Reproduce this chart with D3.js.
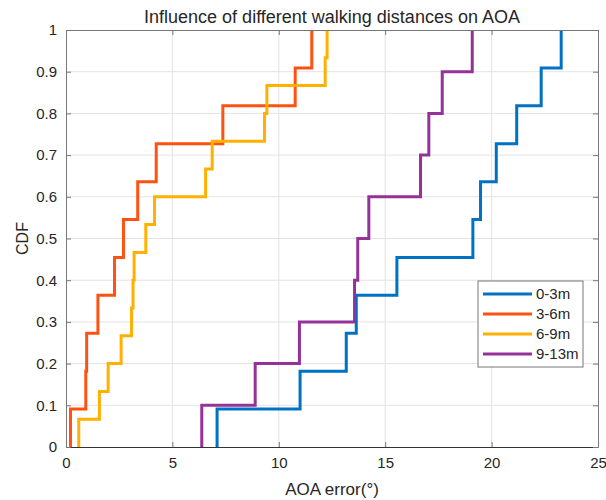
<!DOCTYPE html>
<html>
<head>
<meta charset="utf-8">
<script src="https://cdn.jsdelivr.net/npm/d3@7"></script>
<style>
  body { margin: 0; background: #fff; }
  text { font-family: "Liberation Sans", Arial, sans-serif; fill: #262626; }
</style>
</head>
<body>
<div id="chart"></div>
<script>
// sorted AOA errors (deg) per walking distance
const series0 = [7.1, 11.0, 13.17, 13.64, 15.55, 19.12, 19.48, 20.22, 21.18, 22.33, 23.27];
const series1 = [0.21, 0.93, 0.97, 1.5, 2.28, 2.7, 3.37, 4.24, 7.37, 10.77, 11.55];
const series2 = [0.6, 1.57, 1.98, 2.59, 3.08, 3.15, 3.2, 3.75, 4.16, 6.56, 6.87, 9.33, 9.44, 12.18, 12.27];
const series3 = [6.38, 8.89, 10.97, 13.56, 13.71, 14.23, 16.66, 17.05, 17.68, 19.09];
const names = ["0-3m", "3-6m", "6-9m", "9-13m"];
const colors = ["#0072C4", "#FF5212", "#FFB000", "#95329A"];
const xTicks = [0, 5, 10, 15, 20, 25];
const yTicks = [0, 0.1, 0.2, 0.3, 0.4, 0.5, 0.6, 0.7, 0.8, 0.9, 1];

const margin = { LEFT: 66, RIGHT: 8, TOP: 30, BOTTOM: 53 };
const W = 606, H = 500;
const width = W - margin.LEFT - margin.RIGHT;
const height = H - margin.TOP - margin.BOTTOM;

const svg = d3.select("#chart").append("svg")
    .attr("width", W)
    .attr("height", H);

const g = svg.append("g")
    .attr("transform", `translate(${margin.LEFT}, ${margin.TOP})`);

const x = d3.scaleLinear().domain([0, 25]).range([0, width]);
const y = d3.scaleLinear().domain([0, 1]).range([height, 0]);

// grid
g.append("g").selectAll("line").data(xTicks.slice(1, -1)).enter().append("line")
    .attr("x1", d => x(d)).attr("x2", d => x(d))
    .attr("y1", 0).attr("y2", height)
    .attr("stroke", "#e3e3e3").attr("stroke-width", 1);
g.append("g").selectAll("line").data(yTicks.slice(1, -1)).enter().append("line")
    .attr("x1", 0).attr("x2", width)
    .attr("y1", d => y(d)).attr("y2", d => y(d))
    .attr("stroke", "#e3e3e3").attr("stroke-width", 1);

// cdf step lines
const line = d3.line()
    .x(d => x(d.x))
    .y(d => y(d.y))
    .curve(d3.curveStepAfter);

[series0, series1, series2, series3].forEach((vals, k) => {
    const n = vals.length;
    const pts = [{ x: vals[0], y: 0 }].concat(vals.map((v, i) => ({ x: v, y: (i + 1) / n })));
    g.append("path")
        .attr("d", line(pts))
        .attr("fill", "none")
        .attr("stroke", colors[k])
        .attr("stroke-width", 3);
});

// axes
const xAxis = g.append("g")
    .attr("transform", `translate(0, ${height})`)
    .call(d3.axisBottom(x).tickValues(xTicks).tickSizeInner(-5).tickSizeOuter(0).tickPadding(10));
const yAxis = g.append("g")
    .call(d3.axisLeft(y).tickValues(yTicks).tickFormat(d => d).tickSizeInner(-5).tickSizeOuter(0).tickPadding(9));
const xTop = g.append("g")
    .call(d3.axisTop(x).tickValues(xTicks).tickSizeInner(-5).tickSizeOuter(0).tickFormat(""));
const yRight = g.append("g")
    .attr("transform", `translate(${width}, 0)`)
    .call(d3.axisRight(y).tickValues(yTicks).tickSizeInner(-5).tickSizeOuter(0).tickFormat(""));

[xAxis, yAxis, xTop, yRight].forEach(a => {
    a.selectAll("path").attr("stroke", "#777");
    a.selectAll("line").attr("stroke", "#777");
    a.selectAll("text").attr("font-size", "15px").attr("fill", "#262626")
        .style("font-family", "'Liberation Sans', Arial, sans-serif");
});
xAxis.select("path").attr("stroke", "#333");

// title and labels
svg.append("text")
    .attr("x", margin.LEFT + width / 2)
    .attr("y", 23)
    .attr("text-anchor", "middle")
    .attr("font-size", "18px")
    .text("Influence of different walking distances on AOA");

svg.append("text")
    .attr("x", margin.LEFT + width / 2)
    .attr("y", 495)
    .attr("text-anchor", "middle")
    .attr("font-size", "17px")
    .text("AOA error(°)");

svg.append("text")
    .attr("transform", `translate(28, ${margin.TOP + height / 2}) rotate(-90)`)
    .attr("text-anchor", "middle")
    .attr("font-size", "16px")
    .text("CDF");

// legend
const legend = svg.append("g").attr("transform", "translate(478, 281)");
legend.append("rect")
    .attr("width", 105).attr("height", 86)
    .attr("fill", "#fff").attr("stroke", "#777").attr("stroke-width", 1);
names.forEach((nm, i) => {
    const ly = 13 + i * 20;
    legend.append("line")
        .attr("x1", 5).attr("x2", 54)
        .attr("y1", ly).attr("y2", ly)
        .attr("stroke", colors[i]).attr("stroke-width", 3);
    legend.append("text")
        .attr("x", 58).attr("y", ly + 5)
        .attr("font-size", "15px")
        .text(nm);
});
</script>
</body>
</html>
